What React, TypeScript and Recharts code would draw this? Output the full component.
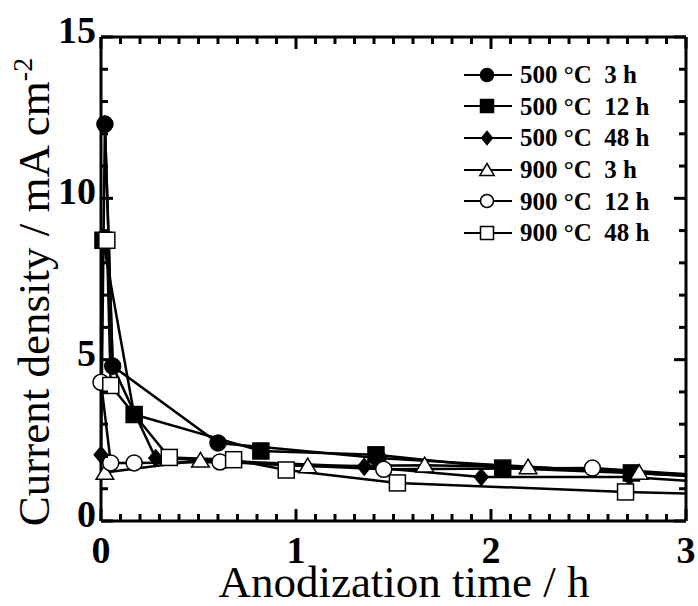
import React from 'react';
import { LineChart, Line, XAxis, YAxis, ReferenceLine } from 'recharts';

// anodization time (h) and current density (mA cm-2)
const t500_3h = [0.02, 0.06, 0.6, 1.42, 3.0];
const j500_3h = [12.3, 4.8, 2.42, 1.95, 1.4];

const t500_12h = [0.01, 0.17, 0.82, 1.41, 2.06, 2.72, 3.0];
const j500_12h = [8.7, 3.3, 2.17, 2.05, 1.64, 1.49, 1.4];

const t500_48h = [0.0, 0.02, 0.06, 0.28, 1.35, 1.95, 2.71, 3.0];
const j500_48h = [2.05, 12.3, 4.8, 1.95, 1.68, 1.36, 1.36, 1.25];

const t900_3h = [0.02, 0.51, 1.06, 1.66, 2.19, 2.76, 3.0];
const j900_3h = [1.5, 1.88, 1.7, 1.73, 1.67, 1.5, 1.45];

const t900_12h = [0.0, 0.05, 0.17, 0.61, 1.45, 2.52, 3.0];
const j900_12h = [4.3, 1.8, 1.8, 1.83, 1.6, 1.64, 1.45];

const t900_48h = [0.03, 0.05, 0.35, 0.68, 0.95, 1.52, 2.69, 3.0];
const j900_48h = [8.7, 4.2, 1.97, 1.9, 1.58, 1.18, 0.9, 0.85];

// minor ticks every 0.1 h and every 1 mA cm-2, labels only on majors
const xTicks = Array.from({ length: 31 }, (_, i) => i / 10);
const yTicks = Array.from({ length: 16 }, (_, i) => i);

type Kind = 'circle' | 'square' | 'diamond' | 'triangle';

const series: { name: string; t: number[]; j: number[]; kind: Kind; filled: boolean }[] = [
  { name: '500 °C  3 h', t: t500_3h, j: j500_3h, kind: 'circle', filled: true },
  { name: '500 °C  12 h', t: t500_12h, j: j500_12h, kind: 'square', filled: true },
  { name: '500 °C  48 h', t: t500_48h, j: j500_48h, kind: 'diamond', filled: true },
  { name: '900 °C  3 h', t: t900_3h, j: j900_3h, kind: 'triangle', filled: false },
  { name: '900 °C  12 h', t: t900_12h, j: j900_12h, kind: 'circle', filled: false },
  { name: '900 °C  48 h', t: t900_48h, j: j900_48h, kind: 'square', filled: false },
];

const FONT = '"Liberation Serif", "Times New Roman", serif';
const PLOT_W = 585;
const PLOT_H = 484;

function Marker({ kind, filled, cx, cy, s }: { kind: Kind; filled: boolean; cx: number; cy: number; s: number }) {
  const fill = filled ? '#000' : '#fff';
  const common = { fill, stroke: '#000', strokeWidth: 1.5 };
  if (kind === 'circle') return <circle cx={cx} cy={cy} r={s / 2} {...common} />;
  if (kind === 'square') return <rect x={cx - s / 2} y={cy - s / 2} width={s} height={s} {...common} />;
  if (kind === 'diamond')
    return (
      <polygon
        points={`${cx},${cy - s * 0.55} ${cx + s * 0.45},${cy} ${cx},${cy + s * 0.55} ${cx - s * 0.45},${cy}`}
        {...common}
      />
    );
  return (
    <polygon
      points={`${cx},${cy - s * 0.5} ${cx + s * 0.55},${cy + s * 0.42} ${cx - s * 0.55},${cy + s * 0.42}`}
      {...common}
    />
  );
}

const isMajor = (v: number, step: number) => Math.abs(v / step - Math.round(v / step)) < 1e-6;

// bottom ticks, mirrored onto the top edge of the frame
const BottomTick = (props: any) => {
  const { x, y, payload } = props;
  const v = payload.value;
  const major = isMajor(v, 1);
  const len = major ? 12 : 7;
  const top = y - PLOT_H;
  return (
    <g>
      <line x1={x} x2={x} y1={y} y2={y - len} stroke="#000" strokeWidth={3} />
      <line x1={x} x2={x} y1={top} y2={top + len} stroke="#000" strokeWidth={3} />
      {major && (
        <text x={x} y={y + 42} textAnchor="middle" fontFamily={FONT} fontWeight="bold" fontSize={38} fill="#000">
          {v}
        </text>
      )}
    </g>
  );
};

// left ticks, mirrored onto the right edge of the frame
const LeftTick = (props: any) => {
  const { x, y, payload } = props;
  const v = payload.value;
  const major = isMajor(v, 5);
  const len = major ? 12 : 7;
  const ax = x + 5;
  const right = ax + PLOT_W;
  return (
    <g>
      <line x1={ax} x2={ax + len} y1={y} y2={y} stroke="#000" strokeWidth={3} />
      <line x1={right} x2={right - len} y1={y} y2={y} stroke="#000" strokeWidth={3} />
      {major && (
        <text x={x} y={y + 6} textAnchor="end" fontFamily={FONT} fontWeight="bold" fontSize={38} fill="#000">
          {v}
        </text>
      )}
    </g>
  );
};

const LegendBox = () => (
  <div
    style={{
      position: 'absolute',
      left: 462,
      top: 59,
      fontFamily: FONT,
      fontWeight: 'bold',
      fontSize: 25,
      color: '#000',
    }}
  >
    {series.map((s) => (
      <div key={s.name} style={{ display: 'flex', alignItems: 'center', height: 31.6 }}>
        <svg width={54} height={20} style={{ overflow: 'visible' }}>
          <line x1={2} x2={50} y1={10} y2={10} stroke="#000" strokeWidth={2} />
          <Marker kind={s.kind} filled={s.filled} cx={25} cy={10} s={s.kind === 'diamond' ? 12 : 13} />
        </svg>
        <span style={{ marginLeft: 4, whiteSpace: 'pre', lineHeight: 1 }}>{s.name}</span>
      </div>
    ))}
  </div>
);

export default function App() {
  return (
    <div style={{ position: 'absolute', left: 0, top: 0, width: 698, height: 606, background: '#fff' }}>
      <LineChart width={698} height={606} margin={{ top: 37, right: 12, bottom: 0, left: 0 }}>
        <XAxis
          dataKey="t"
          type="number"
          domain={[0, 3]}
          ticks={xTicks}
          interval={0}
          height={85}
          tickSize={0}
          tickMargin={0}
          tickLine={false}
          tick={BottomTick}
          axisLine={{ stroke: '#000', strokeWidth: 3 }}
          label={{
            content: () => (
              <text x={404} y={597} textAnchor="middle" fontFamily={FONT} fontSize={45} fill="#000">
                Anodization time / h
              </text>
            ),
          }}
        />
        <YAxis
          dataKey="j"
          type="number"
          domain={[0, 15]}
          ticks={yTicks}
          interval={0}
          width={101}
          tickSize={0}
          tickMargin={5}
          tickLine={false}
          tick={LeftTick}
          axisLine={{ stroke: '#000', strokeWidth: 3 }}
          label={{
            content: () => (
              <text
                x={0}
                y={0}
                transform="translate(49 292) rotate(-90)"
                textAnchor="middle"
                fontFamily={FONT}
                fontSize={45}
                fill="#000"
              >
                Current density / mA cm
                <tspan dy={-17} fontSize={28}>
                  -2
                </tspan>
              </text>
            ),
          }}
        />
        <ReferenceLine x={3} stroke="#000" strokeWidth={3} ifOverflow="visible" />
        <ReferenceLine y={15} stroke="#000" strokeWidth={3} ifOverflow="visible" />
        {series.map((s) => (
          <Line
            key={s.name}
            name={s.name}
            data={s.t.map((t, i) => ({ t, j: s.j[i] }))}
            dataKey="j"
            type="linear"
            stroke="#000"
            strokeWidth={2.5}
            isAnimationActive={false}
            dot={(p: any) =>
              p.payload.t >= 3 ? (
                <g key={p.index} />
              ) : (
                <Marker
                  key={p.index}
                  kind={s.kind}
                  filled={s.filled}
                  cx={p.cx}
                  cy={p.cy}
                  s={s.kind === 'diamond' ? 15 : 16}
                />
              )
            }
            activeDot={false}
          />
        ))}
      </LineChart>
      <LegendBox />
    </div>
  );
}
